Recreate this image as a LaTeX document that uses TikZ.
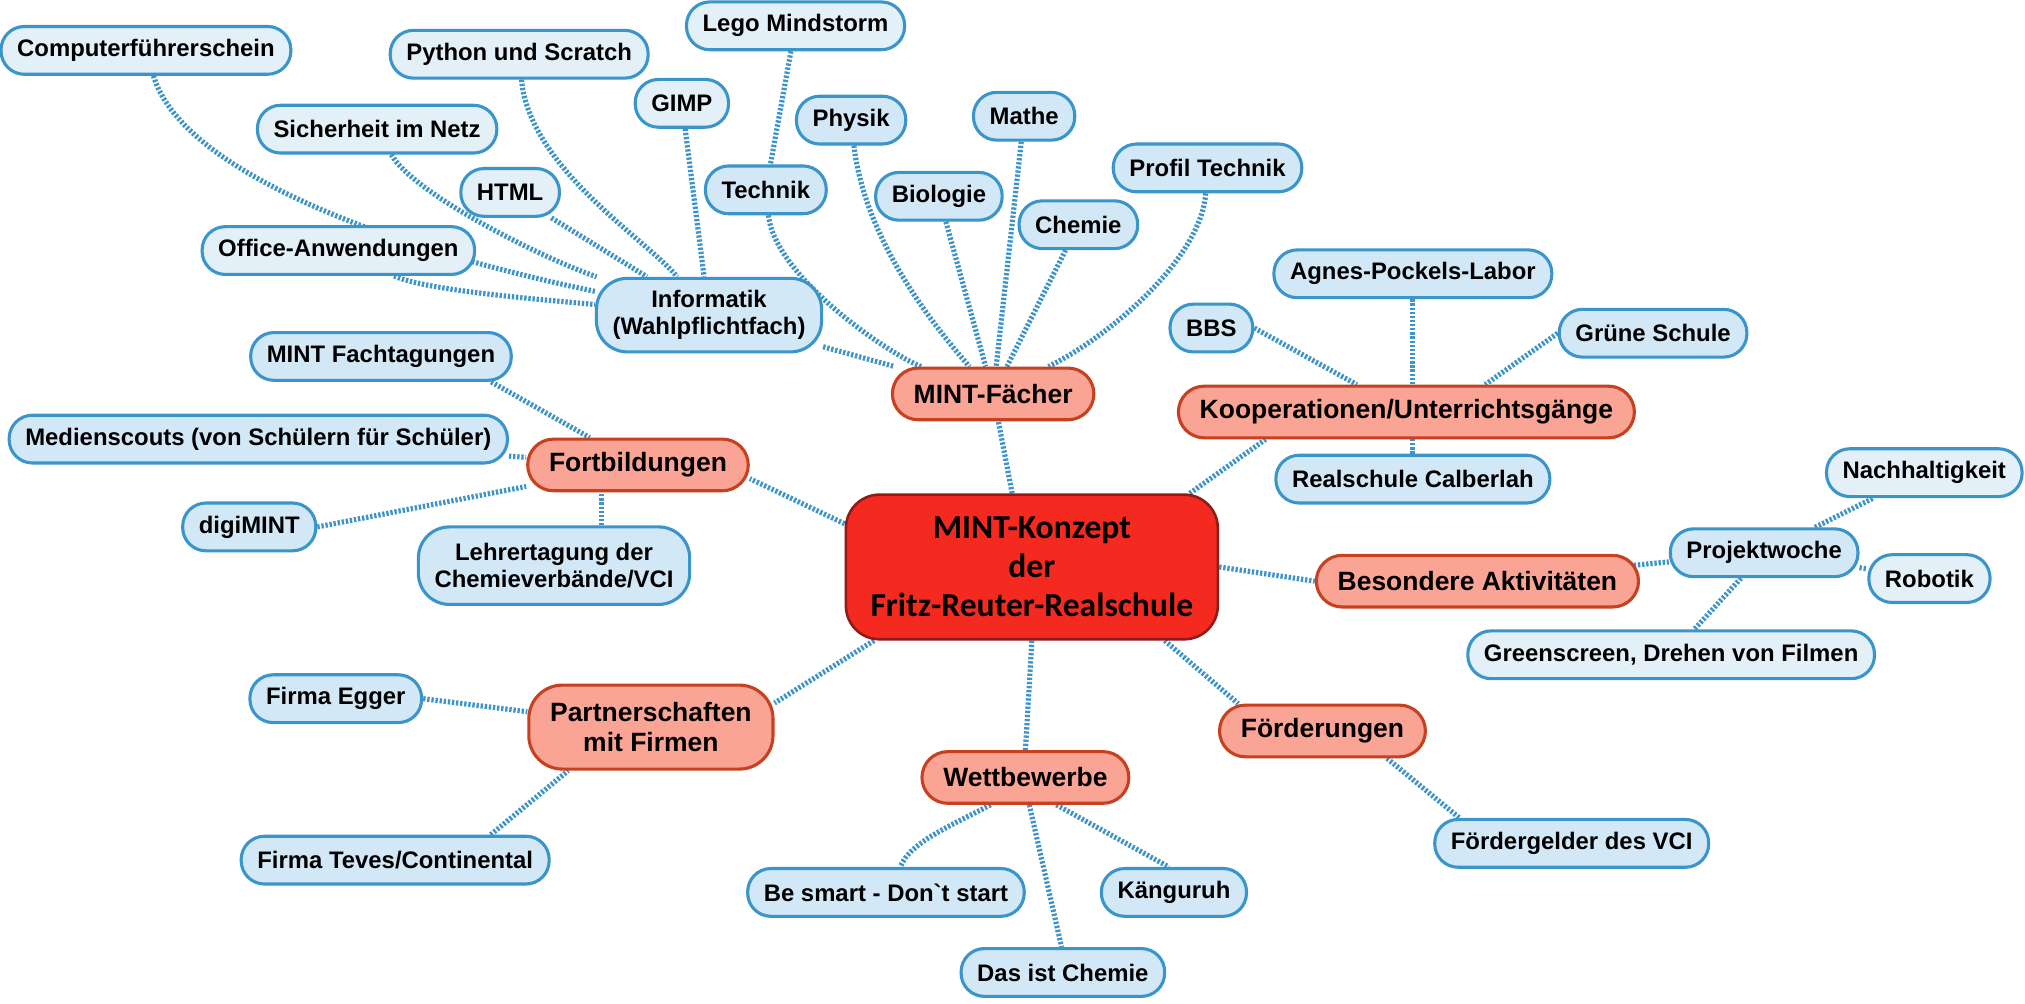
\documentclass[tikz,border=0pt]{standalone}
\usepackage{fontspec}
\setmainfont{Liberation Sans}
\newfontfamily\hubfont{Carlito}
\usetikzlibrary{calc}
\pgfdeclarelayer{bg}
\pgfsetlayers{bg,main}
\definecolor{lineblue}{HTML}{3E94CA}
\definecolor{leafdraw}{HTML}{3A95CA}
\definecolor{leaftwo}{HTML}{D3E8F6}
\definecolor{leafthree}{HTML}{E3F0F8}
\definecolor{catdraw}{HTML}{C7401F}
\definecolor{catfill}{HTML}{F9A494}
\definecolor{hubfill}{HTML}{F42920}
\definecolor{hubdraw}{HTML}{8E1B16}
\tikzset{
  base/.style={rounded corners=18pt, minimum height=37pt, inner xsep=12.5pt, inner ysep=0pt,
    line width=2.4pt, font=\fontsize{18.5}{21}\selectfont\bfseries, align=center},
  lvtwo/.style={base, draw=leafdraw, fill=leaftwo},
  lvthree/.style={base, draw=leafdraw, fill=leafthree},
  cat/.style={rounded corners=20pt, minimum height=40pt, inner xsep=16.5pt, inner ysep=0pt,
    line width=2.4pt, draw=catdraw, fill=catfill, font=\fontsize{20.5}{23}\selectfont\bfseries, align=center},
  hub/.style={rounded corners=26pt, minimum width=288pt, minimum height=112pt, line width=2pt,
    draw=hubdraw, fill=hubfill, font=\hubfont\fontsize{26}{30}\selectfont\bfseries, align=center},
  link/.style={draw=lineblue, line width=4pt, dash pattern=on 1.8pt off 1.4pt},
}
\begin{document}
\begin{tikzpicture}[x=1pt,y=-1pt]
\useasboundingbox (0,0) rectangle (1568,777);

% hub
\node[hub] (hub) at (799,439) {MINT-Konzept\\der\\Fritz-Reuter-Realschule};

% categories
\node[cat] (mf) at (769,305) {MINT-Fächer};
\node[cat] (ko) at (1089,319) {Kooperationen/Unterrichtsgänge};
\node[cat] (fb) at (494,360) {Fortbildungen};
\node[cat] (ba) at (1144,450) {Besondere Aktivitäten};
\node[cat, minimum height=65pt, rounded corners=26pt] (pm) at (504,563) {Partnerschaften\\mit Firmen};
\node[cat] (foe) at (1024,566) {Förderungen};
\node[cat] (wb) at (794,602) {Wettbewerbe};

% MINT-Faecher children
\node[lvtwo, minimum height=57pt, rounded corners=24pt] (inf) at (549,244) {Informatik\\(Wahlpflichtfach)};
\node[lvtwo] (tech) at (593,147) {Technik};
\node[lvtwo] (phys) at (659,93) {Physik};
\node[lvtwo] (bio) at (727,152) {Biologie};
\node[lvtwo] (mathe) at (793,90) {Mathe};
\node[lvtwo] (chem) at (835,174) {Chemie};
\node[lvtwo] (prof) at (935,130) {Profil Technik};
\node[lvthree] (lego) at (616,20) {Lego Mindstorm};

% Informatik children
\node[lvthree] (cfs) at (113,39) {Computerführerschein};
\node[lvthree] (py) at (402,42) {Python und Scratch};
\node[lvthree] (gimp) at (528,80) {GIMP};
\node[lvthree] (sich) at (292,100) {Sicherheit im Netz};
\node[lvthree] (html) at (395,149) {HTML};
\node[lvthree] (office) at (262,194) {Office-Anwendungen};

% Kooperationen children
\node[lvtwo] (agnes) at (1094,212) {Agnes-Pockels-Labor};
\node[lvtwo] (bbs) at (938,254) {BBS};
\node[lvtwo] (gs) at (1280,258) {Grüne Schule};
\node[lvtwo] (rc) at (1094,371) {Realschule Calberlah};

% Fortbildungen children
\node[lvtwo] (mft) at (295,276) {MINT Fachtagungen};
\node[lvtwo] (ms) at (200,340) {Medienscouts (von Schülern für Schüler)};
\node[lvtwo] (dm) at (193,408) {digiMINT};
\node[lvtwo, minimum height=60pt, rounded corners=24pt] (lt) at (429,438) {Lehrertagung der\\Chemieverbände/VCI};

% Besondere Aktivitaeten children
\node[lvtwo] (pw) at (1366,428) {Projektwoche};
\node[lvthree] (nh) at (1490,366) {Nachhaltigkeit};
\node[lvthree] (rb) at (1494,448) {Robotik};
\node[lvthree] (gr) at (1294,507) {Greenscreen, Drehen von Filmen};

% Partnerschaften children
\node[lvtwo] (fe) at (260,541) {Firma Egger};
\node[lvtwo] (ft) at (306,666) {Firma Teves/Continental};

% Foerderungen child
\node[lvtwo] (fg) at (1217,653) {Fördergelder des VCI};

% Wettbewerbe children
\node[lvtwo] (bs) at (686,691) {Be smart - Don\textasciigrave t start};
\node[lvtwo] (kg) at (909,691) {Känguruh};
\node[lvtwo] (dc) at (823,753) {Das ist Chemie};

\begin{pgfonlayer}{bg}
\fill[white] (0,0) rectangle (1568,777);
% hub connectors
\draw[link] (hub.105) -- (mf);
\draw[link] (hub.25) -- (ko.191);
\draw[link] (hub.167) -- (fb.-7);
\draw[link] (hub.east) -- (ba.west);
\draw[link] (hub.205) -- (pm.11);
\draw[link] (hub.-29) -- (foe.162);
\draw[link] (hub.south) -- (wb.north);
% MINT-Faecher
\draw[link] (inf) -- (mf);
\draw[link] (tech) .. controls (600,215) and (690,275) .. (mf);
\draw[link] (phys) .. controls (670,190) and (730,260) .. (mf);
\draw[link] (bio) -- (mf);
\draw[link] (mathe) -- (mf);
\draw[link] (chem) -- (mf);
\draw[link] (prof) .. controls (930,200) and (860,260) .. (mf);
\draw[link] (lego) -- (tech);
% Informatik
\draw[link] (cfs) .. controls (140,130) and (290,190) .. (inf);
\draw[link] (py) .. controls (410,130) and (500,185) .. (inf);
\draw[link] (sich) .. controls (320,150) and (420,200) .. (inf);
\draw[link] (html) -- (inf);
\draw[link] (office) .. controls (330,225) and (420,232) .. (inf);
\draw[link] (gimp) -- (inf);
% Kooperationen
\draw[link] (agnes.south) -- (agnes.south |- ko.north);
\draw[link] (bbs.east) -- (ko);
\draw[link] (gs.west) -- ($(ko.north)+(61,0)$);
\draw[link] (rc.north) -- (rc.north |- ko.south);
% Fortbildungen
\draw[link] (mft.-13) -- (fb);
\draw[link] (ms) -- (fb);
\draw[link] (dm.east) -- (fb);
\draw[link] ($(lt.north)+(37,0)$) -- ($(fb.south)+(-28,0)$);
% Besondere Aktivitaeten
\draw[link] ($(ba.east)+(-8,-12)$) -- (pw);
\draw[link] (pw) -- (nh);
\draw[link] (pw) -- (rb);
\draw[link] (pw) -- (gr);
% Partnerschaften
\draw[link] (fe.east) -- (pm);
\draw[link] ($(ft.north)+(74,0)$) -- ($(pm.south)+(-64,0)$);
% Foerderungen
\draw[link] ($(foe.south)+(50,0)$) -- ($(fg.north)+(-87,0)$);
% Wettbewerbe
\draw[link] ($(wb.south)+(-27,0)$) .. controls (735,640) and (705,652) .. ($(bs.north)+(11,0)$);
\draw[link] ($(wb.south)+(3,0)$) -- ($(dc.north)+(-1,0)$);
\draw[link] ($(wb.south)+(24,0)$) -- ($(kg.north)+(-4,0)$);
\end{pgfonlayer}
\end{tikzpicture}
\end{document}
